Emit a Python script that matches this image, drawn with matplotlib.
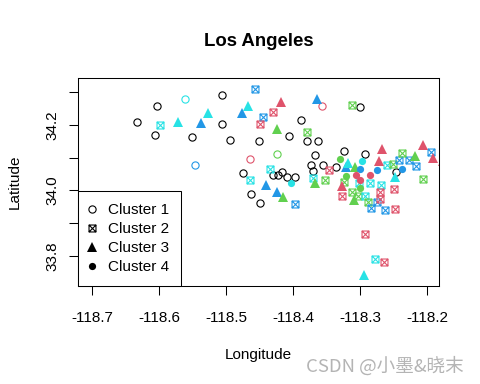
import matplotlib
matplotlib.use("Agg")
import matplotlib.pyplot as plt
from matplotlib.lines import Line2D
from matplotlib.path import Path

plt.rcParams["font.family"] = ["Liberation Sans", "DejaVu Sans"]
plt.rcParams["axes.unicode_minus"] = False

# R 4.x default palette
PAL = {"k": "#000000", "r": "#DF536B", "g": "#61D04F", "b": "#2297E6", "c": "#28E2E5"}

# Cluster 1 (open circles)
c1_lon = [-118.603, -118.561, -118.633, -118.606, -118.551, -118.546, -118.506, -118.507,
          -118.494, -118.451, -118.406, -118.389, -118.380, -118.363, -118.425, -118.464,
          -118.368, -118.373, -118.475, -118.430, -118.423, -118.417, -118.410, -118.397,
          -118.370, -118.463, -118.449, -118.357, -118.301, -118.325, -118.293, -118.355,
          -118.336, -118.246]
c1_lat = [34.257, 34.279, 34.208, 34.169, 34.162, 34.077, 34.291, 34.203,
          34.153, 34.150, 34.166, 34.214, 34.150, 34.150, 34.110, 34.095,
          34.107, 34.077, 34.052, 34.046, 34.046, 34.055, 34.040, 34.042,
          34.059, 33.989, 33.961, 34.257, 34.254, 34.120, 34.111, 34.077,
          34.072, 34.056]
c1_col = ["k", "c", "k", "k", "k", "b", "k", "k", "k", "k", "k", "k", "k", "k", "g", "r",
          "k", "k", "k", "k", "k", "k", "k", "k", "k", "k", "k", "r", "k", "k", "k", "k",
          "k", "k"]

# Cluster 2 (boxed x)
c2_lon = [-118.599, -118.457, -118.445, -118.431, -118.450, -118.380, -118.312, -118.434,
          -118.465, -118.371, -118.397, -118.346, -118.353, -118.324, -118.302, -118.285,
          -118.269, -118.260, -118.251, -118.242, -118.227, -118.217, -118.238, -118.194,
          -118.206, -118.250, -118.327, -118.313, -118.304, -118.293, -118.289, -118.284,
          -118.275, -118.271, -118.271, -118.263, -118.248, -118.293, -118.278, -118.264]
c2_lat = [34.201, 34.310, 34.225, 34.241, 34.202, 34.180, 34.261, 34.065,
          34.031, 34.039, 33.959, 34.062, 34.033, 34.027, 34.022, 34.024,
          34.016, 34.079, 34.080, 34.093, 34.092, 34.075, 34.113, 34.117,
          34.034, 34.003, 33.982, 33.994, 33.984, 33.984, 33.966, 33.947,
          33.964, 33.994, 33.974, 33.941, 33.943, 33.868, 33.791, 33.782]
c2_col = ["c", "b", "b", "r", "r", "g", "g", "c", "c", "c", "b", "r", "g", "g", "c", "c",
          "c", "c", "g", "b", "b", "b", "g", "b", "g", "r", "r", "g", "g", "c", "g", "b",
          "b", "r", "r", "b", "r", "r", "c", "r"]

# Cluster 3 (filled triangles)
c3_lon = [-118.572, -118.537, -118.528, -118.477, -118.468, -118.419, -118.365, -118.424,
          -118.440, -118.424, -118.416, -118.368, -118.321, -118.318, -118.308, -118.327,
          -118.310, -118.267, -118.207, -118.272, -118.218, -118.192, -118.177, -118.248,
          -118.294]
c3_lat = [34.210, 34.205, 34.237, 34.238, 34.259, 34.270, 34.279, 34.188,
          34.015, 33.994, 33.979, 34.022, 34.073, 34.084, 34.073, 34.014,
          33.972, 34.128, 34.140, 34.089, 34.105, 34.099, 34.090, 34.042,
          33.741]
c3_col = ["c", "b", "c", "b", "c", "r", "b", "g", "b", "b", "g", "g", "b", "c", "g", "r",
          "g", "r", "r", "r", "g", "r", "r", "c", "c"]

# Cluster 4 (filled circles)
c4_lon = [-118.403, -118.331, -118.297, -118.301, -118.275, -118.237, -118.321, -118.307,
          -118.301, -118.286, -118.301]
c4_lat = [34.022, 34.095, 34.090, 34.065, 34.061, 34.065, 34.044, 34.046,
          34.032, 34.046, 34.006]
c4_col = ["c", "g", "c", "b", "b", "b", "g", "r", "r", "r", "g"]

labels = ["Cluster 1", "Cluster 2", "Cluster 3", "Cluster 4"]
x_ticks = [-118.7, -118.6, -118.5, -118.4, -118.3, -118.2]
y_ticks = [33.8, 33.9, 34.0, 34.1, 34.2, 34.3]
y_ticklabels = ["33.8", "", "34.0", "", "34.2", ""]

# R pch 7: square with an x inside
boxx = Path([(-1, -1), (1, -1), (1, 1), (-1, 1), (-1, -1),
             (-1, -1), (1, 1), (-1, 1), (1, -1)],
            [Path.MOVETO, Path.LINETO, Path.LINETO, Path.LINETO, Path.CLOSEPOLY,
             Path.MOVETO, Path.LINETO, Path.MOVETO, Path.LINETO])

styles = [
    dict(marker="o", ms=5.2, mfc="none", mew=0.8),
    dict(marker=boxx, ms=5.0, mfc="none", mew=0.8),
    dict(marker="^", ms=6.8, mew=0),
    dict(marker="o", ms=5.2, mew=0),
]

fig = plt.figure(figsize=(4.8, 3.84), dpi=100)
ax = fig.add_axes([0.1625, 0.2552, 0.7521, 0.5417])

groups = [(c1_lon, c1_lat, c1_col), (c2_lon, c2_lat, c2_col),
          (c3_lon, c3_lat, c3_col), (c4_lon, c4_lat, c4_col)]
for (lon, lat, col), st in zip(groups, styles):
    for x, y, c in zip(lon, lat, col):
        kw = dict(st)
        if kw.get("mfc") != "none":
            kw["mfc"] = PAL[c]
        ax.plot([x], [y], linestyle="none", mec=PAL[c], **kw)

ax.set_xlim(-118.7213, -118.1825)
ax.set_ylim(33.7076, 34.3437)
ax.set_xticks(x_ticks)
ax.set_xticklabels([f"{v:.1f}" for v in x_ticks])
ax.set_yticks(y_ticks)
ax.set_yticklabels(y_ticklabels, rotation=90, va="center")
ax.tick_params(axis="both", length=6.7, width=0.75, labelsize=11, color="black")
ax.tick_params(axis="x", pad=11)
ax.tick_params(axis="y", pad=7)
for s in ax.spines.values():
    s.set_linewidth(0.75)

ax.set_xlabel("Longitude", fontsize=11, labelpad=17)
ax.set_ylabel("Latitude", fontsize=11, labelpad=17)
ax.set_title("Los Angeles", fontsize=13.4, fontweight="bold", pad=23)

handles = []
for st in styles:
    kw = dict(st)
    if kw.get("mfc") != "none":
        kw["mfc"] = "black"
    handles.append(Line2D([], [], linestyle="none", color="black", mec="black", **kw))
leg = ax.legend(handles, labels, loc="lower left", bbox_to_anchor=(0, 0),
                borderaxespad=0, fontsize=11, fancybox=False, framealpha=1,
                edgecolor="black", borderpad=0.78, handlelength=0.3,
                handletextpad=0.9, labelspacing=0.33)
leg.get_frame().set_linewidth(0.75)

fig.text(0.967, 1 - 366 / 384, "CSDN @小墨&晓末", ha="right", va="center",
         fontsize=13.4, color="#b4b4b4", family=["Noto Sans CJK SC", "DejaVu Sans"])

fig.savefig("out.png", dpi=100)
